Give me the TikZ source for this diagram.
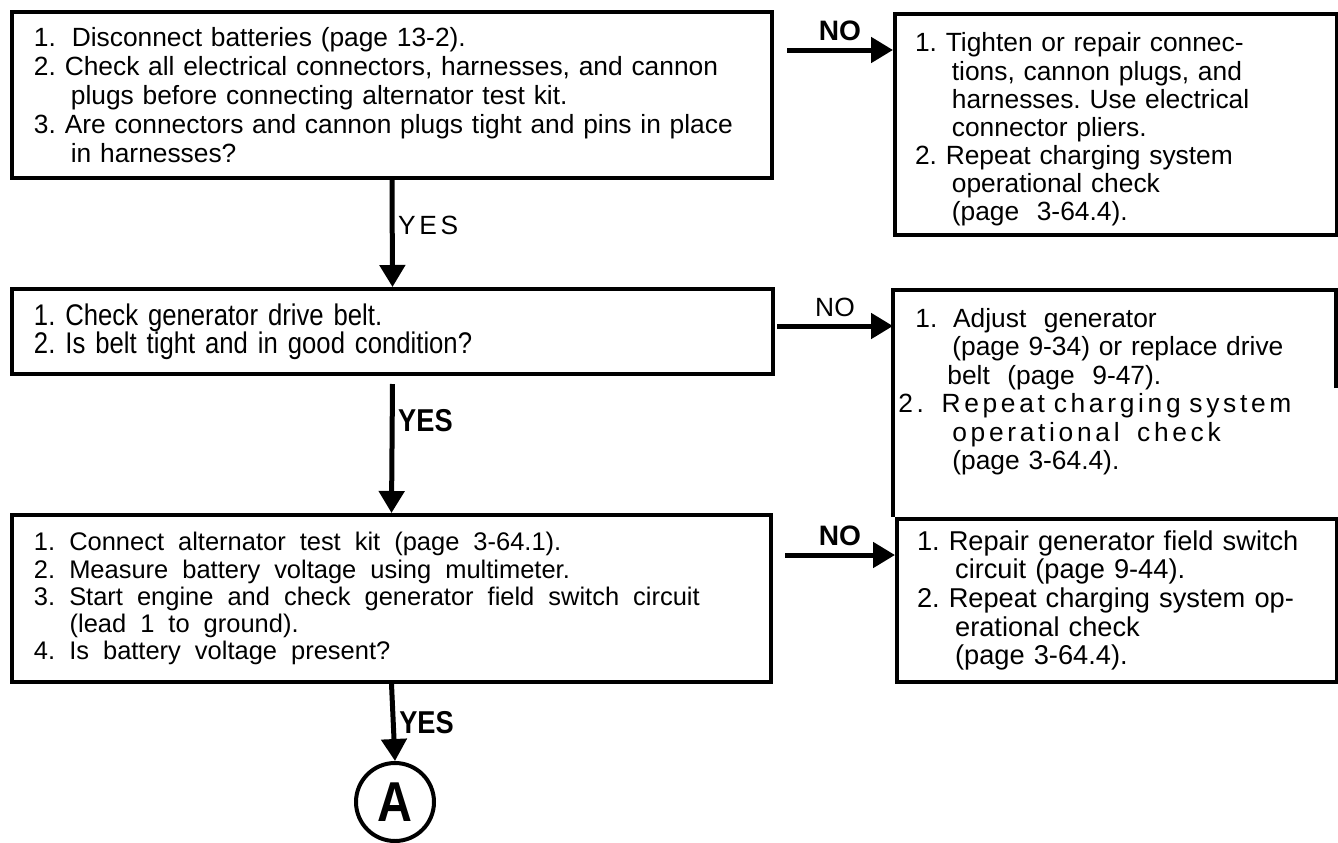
\documentclass[tikz,border=0pt]{standalone}
\usepackage{fontspec}
\setmainfont{Liberation Sans}
\newfontfamily\narrowfont[FakeStretch=0.86]{Liberation Sans}
\newfontfamily\spacedfont[LetterSpace=14]{Liberation Sans}
\usetikzlibrary{arrows.meta, positioning, calc}

\frenchspacing
\newcommand{\hang}{\hspace*{1.4em}}
\newcommand{\tightlines}{\lineskiplimit=-20pt\relax}
\newcommand{\widewords}{\spaceskip=0.55em plus 0.1em minus 0.05em\relax}

\begin{document}
\begin{tikzpicture}[
    x=0.02cm, y=-0.02cm,
    testbox/.style={draw=black, line width=0.08cm, anchor=north west, align=left, inner xsep=0.44cm, inner ysep=0pt, font=\fontsize{15}{16.5}\selectfont\tightlines},
    fixbox/.style={draw=black, line width=0.08cm, anchor=north west, align=left, inner xsep=0.4cm, inner ysep=0pt, font=\fontsize{15}{16}\selectfont\tightlines},
    flowarrow/.style={line width=0.1cm, -{Triangle[length=0.44cm, width=0.5cm]}},
    nolabel/.style={above=3pt, inner sep=1pt, font=\fontsize{15}{15}\selectfont},
    yeslabel/.style={right=1pt, inner sep=1pt, font=\fontsize{15}{15}\selectfont}
  ]
  \useasboundingbox (0,0) rectangle (1338,842);

  % left column
  \node[testbox, text width=716*0.02cm, minimum height=166*0.02cm] (connectors) at (10,10) {1.\hspace{0.6em}Disconnect batteries (page 13-2).\\
    2. Check all electrical connectors, harnesses, and cannon\\
    \hang plugs before connecting alternator test kit.\\
    3. Are connectors and cannon plugs tight and pins in place\\
    \hang in harnesses?};
  \node[testbox, text width=717*0.02cm, minimum height=85*0.02cm, font=\narrowfont\fontsize{17}{15.9}\selectfont\tightlines] (belt) at (10,287) {1. Check generator drive belt.\\
    2. Is belt tight and in good condition?};
  \node[testbox, text width=715*0.02cm, minimum height=167*0.02cm, font=\fontsize{14.5}{15.4}\selectfont\tightlines] (fieldsw) at (10,513) {\widewords 1. Connect alternator test kit (page 3-64.1).\\
    2. Measure battery voltage using multimeter.\\
    3. Start engine and check generator field switch circuit\\
    \hang (lead 1 to ground).\\
    4. Is battery voltage present?};
  \node[circle, draw=black, line width=0.08cm, minimum size=78*0.02cm, inner sep=0pt, font=\narrowfont\fontsize{32}{32}\bfseries] (goA) at (395,802) {A};

  % right column
  \node[fixbox, text width=402*0.02cm, minimum height=221*0.02cm] (repairconn) at (893,12) {\rule{0pt}{0.58cm}1. Tighten or repair connec-\\
    \hang tions, cannon plugs, and\\
    \hang harnesses. Use electrical\\
    \hang connector pliers.\\
    2. Repeat charging system\\
    \hang operational check\\
    \hang (page\ \ 3-64.4).};
  \node[anchor=north west, align=left, inner xsep=0.1cm, inner ysep=0.36cm, text width=432*0.02cm, font=\fontsize{15}{16.2}\selectfont\tightlines] (adjustbelt) at (893,290) {\hspace*{0.34cm}1.\hspace{0.6em}Adjust\ \ generator\\
    \hspace*{1.08cm}(page 9-34) or replace drive\\
    \hspace*{0.98cm}belt\ \ (page\ \ 9-47).\\
    {\spacedfont 2.\ \ Repeat charging system}\\
    \hspace*{1.08cm}{\spacedfont operational\ \ check}\\
    \hspace*{1.08cm}(page 3-64.4).};
  \node[fixbox, text width=400*0.02cm, minimum height=163*0.02cm, font=\fontsize{15.5}{16.3}\selectfont\tightlines] (repairfield) at (895,517) {1. Repair generator field switch\\
    \hang circuit (page 9-44).\\
    2. Repeat charging system op-\\
    \hang erational check\\
    \hang (page 3-64.4).};
  \draw[line width=0.08cm] ([yshift=-98*0.02cm]adjustbelt.north east) -- (adjustbelt.north east) -- (adjustbelt.north west) -- (adjustbelt.north west |- repairfield.north);

  % connectors
  \coordinate (no1) at ([shift={(13,40)}]connectors.north east);
  \coordinate (no2) at ([shift={(2,39)}]belt.north east);
  \coordinate (no3) at ([shift={(12,42)}]fieldsw.north east);
  \draw[flowarrow] (no1) -- node[nolabel, font=\fontsize{16}{16}\bfseries]{NO} (no1 -| repairconn.west);
  \draw[flowarrow] (no2) -- node[nolabel]{NO} (no2 -| adjustbelt.west);
  \draw[flowarrow] (no3) -- node[nolabel, font=\fontsize{16}{16}\bfseries]{NO} (no3 -| repairfield.west);

  \draw[flowarrow] (connectors.south) -- node[yeslabel, pos=0.42]{\spacedfont YES} (belt.north);
  \draw[flowarrow] ([yshift=-8*0.02cm]belt.south) -- node[yeslabel, pos=0.28, font=\narrowfont\fontsize{18}{18}\bfseries]{YES} (fieldsw.north);
  \draw[flowarrow] (fieldsw.south) -- node[yeslabel, pos=0.5, font=\narrowfont\fontsize{18}{18}\bfseries]{YES} (goA.north);
\end{tikzpicture}
\end{document}
